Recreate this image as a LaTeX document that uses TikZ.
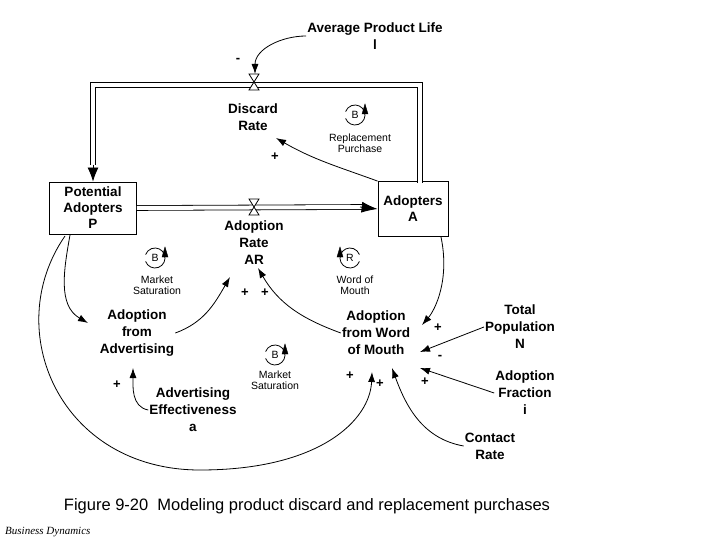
\documentclass[tikz,border=0pt]{standalone}
\usepackage{fontspec}
\setmainfont{Liberation Sans}
\newfontfamily\bdfont{Liberation Serif}
\usetikzlibrary{arrows.meta,positioning}
\begin{document}
\begin{tikzpicture}[x=1pt,y=-1pt,
    varND/.style={align=center,font=\fontsize{13.5}{17}\selectfont\bfseries,inner sep=1pt},
    stockND/.style={draw,thick,align=center,font=\fontsize{13.5}{16}\selectfont\bfseries,inner sep=1pt},
    loopND/.style={align=center,font=\fontsize{10.5}{11}\selectfont,inner sep=0pt},
    sgnND/.style={font=\fontsize{13}{13}\selectfont\bfseries,inner sep=0pt},
    lnk/.style={-{Latex[length=10pt,width=7pt]},thick},
    pipe/.style={double,double distance=4pt,thick}]
    \useasboundingbox (0,0) rectangle (720,540);
    % stocks
    \node[stockND,minimum width=87pt,minimum height=52pt](P) at (93,208) {Potential\\Adopters\\P};
    \node[stockND,minimum width=70pt,minimum height=55pt](A) at (413,209) {Adopters\\A};
    % variables
    \node[varND](L)  at (375,36)  {Average Product Life\\l};
    \node[varND](DR) at (253,117) {Discard\\Rate};
    \node[varND](AR) at (254,243) {Adoption\\Rate\\AR};
    \node[varND](AA) at (137,333) {Adoption\\from\\Advertising};
    \node[varND](AW) at (376,333) {Adoption\\from Word\\of Mouth};
    \node[varND](N)  at (520,327) {Total\\Population\\N};
    \node[varND](I)  at (525,393) {Adoption\\Fraction\\i};
    \node[varND](C)  at (490,446) {Contact\\Rate};
    \node[varND](E)  at (193,410) {Advertising\\Effectiveness\\a};
    % pipes
    \coordinate (pA) at (420,183);
    \coordinate (pTL) at (93,85);
    \draw[pipe] (pA) |- (pTL) -- (93,165);
    \draw[-{Latex[length=14pt,width=11pt]},thick] (93,165) -- (P.north);
    \draw[pipe] (P.east) -- (362,207);
    \draw[-{Latex[length=16pt,width=11pt]},thick] (360,207) -- (A.west);
    % valves
    \foreach \vx/\vy in {254/82, 254/207}
        \draw[thick,fill=white] (\vx-5,\vy-8) -- (\vx+5,\vy-8) -- (\vx-5,\vy+8) -- (\vx+5,\vy+8) -- cycle;
    % loops
    \foreach \lx/\ly/\lt/\ld in {355/115/B/1, 155/258/B/1, 275/355/B/1, 350/258/R/-1}{
        \draw[thick] (\lx,\ly) ++(70*\ld+90:10) arc[start angle=70*\ld+90,delta angle=-320*\ld,radius=10];
        \node[loopND] at (\lx,\ly) {\lt};
        \draw[fill] (\lx+10*\ld,\ly-11) -- (\lx+7*\ld,\ly-1) -- (\lx+13*\ld,\ly-1) -- cycle;
    }
    \node[loopND] at (360,143) {Replacement\\Purchase};
    \node[loopND] at (157,285) {Market\\Saturation};
    \node[loopND] at (275,380) {Market\\Saturation};
    \node[loopND] at (355,285) {Word of\\Mouth};
    % links
    \draw[lnk] (L.west) to[out=180,in=90] (255,74);
    \draw[lnk] (A.north west) to[out=160,in=-30] (276,138);
    \draw[lnk] (70,235) to[out=-100,in=150] (88,323);
    \draw[lnk] (65,236) .. controls (0,330) and (60,470) .. (200,470) .. controls (320,470) and (370,420) .. (372,372);
    \draw[lnk] (441,237) .. controls (450,280) and (435,310) .. (422,325);
    \draw[lnk] (AA.east) to[out=20,in=-120] (230,277);
    \draw[lnk] (AW.west) to[out=160,in=-60] (258,268);
    \draw[lnk] (N.west) -- (420,352);
    \draw[lnk] (I.west) -- (420,368);
    \draw[lnk] (C.west) to[out=170,in=-70] (392,368);
    \draw[lnk] (E.west) to[out=170,in=-90] (133,368);
    % signs
    \foreach \sx/\sy/\st in {238/60/-, 275/157/+, 245/293/+, 265/293/+, 438/328/+, 440/357/-,
                             350/376/+, 380/384/+, 425/382/+, 117/385/+}
        \node[sgnND] at (\sx,\sy) {\st};
    % caption
    \node[font=\fontsize{16.5}{18}\selectfont](cap) at (307,506) {Figure 9-20\ \ Modeling product discard and replacement purchases};
    \node[font=\bdfont\itshape\fontsize{11}{12}\selectfont,anchor=west,inner sep=0pt](bd) at (5,532) {Business Dynamics};
\end{tikzpicture}
\end{document}
